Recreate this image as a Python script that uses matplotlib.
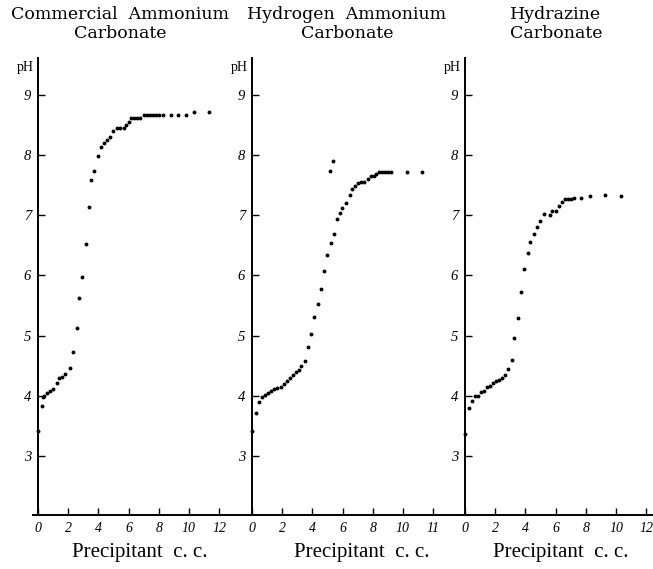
import matplotlib
matplotlib.use('Agg')
import matplotlib.pyplot as plt

# pH titration data (precipitant c.c. vs pH)
comm_cc = [0.0, 0.24, 0.3, 0.4, 0.62, 0.82, 1.02, 1.25, 1.42, 1.58,
           1.82, 2.09, 2.29, 2.56, 2.71, 2.93, 3.18, 3.36, 3.51, 3.73,
           3.98, 4.18, 4.35, 4.6, 4.8, 5.0, 5.25, 5.45, 5.7, 5.8,
           6.0, 6.15, 6.35, 6.55, 6.75, 7.0, 7.2, 7.4, 7.6, 7.8,
           8.0, 8.3, 8.8, 9.3, 9.8, 10.3, 11.3]
comm_ph = [3.41, 3.83, 3.98, 4.0, 4.04, 4.08, 4.12, 4.22, 4.30, 4.31,
           4.36, 4.46, 4.72, 5.13, 5.62, 5.98, 6.52, 7.14, 7.59, 7.74,
           7.99, 8.13, 8.19, 8.25, 8.30, 8.40, 8.45, 8.45, 8.45, 8.50,
           8.55, 8.61, 8.61, 8.61, 8.61, 8.66, 8.67, 8.67, 8.67, 8.67,
           8.67, 8.67, 8.67, 8.67, 8.67, 8.71, 8.71]

hyd_cc = [0.0, 0.24, 0.47, 0.68, 0.88, 1.08, 1.28, 1.48, 1.68, 1.90,
          2.12, 2.32, 2.52, 2.72, 2.91, 3.09, 3.27, 3.51, 3.71, 3.89,
          4.13, 4.35, 4.59, 4.77, 4.97, 5.21, 5.41, 5.63, 5.81, 5.98,
          6.23, 6.47, 6.64, 6.84, 7.0, 7.2, 7.44, 7.68, 7.9, 8.06,
          8.23, 8.39, 8.59, 8.81, 9.03, 9.23, 10.26, 11.28,
          5.15, 5.39]
hyd_ph = [3.42, 3.72, 3.89, 3.98, 4.02, 4.05, 4.08, 4.11, 4.13, 4.15,
          4.20, 4.25, 4.29, 4.34, 4.39, 4.43, 4.49, 4.58, 4.81, 5.02,
          5.31, 5.52, 5.78, 6.07, 6.33, 6.54, 6.69, 6.93, 7.03, 7.12,
          7.20, 7.34, 7.43, 7.49, 7.54, 7.55, 7.55, 7.60, 7.65, 7.65,
          7.69, 7.71, 7.71, 7.71, 7.71, 7.71, 7.71, 7.71,
          7.74, 7.90]

hydz_cc = [0.0, 0.29, 0.45, 0.67, 0.89, 1.07, 1.27, 1.47, 1.67, 1.87,
           2.07, 2.27, 2.47, 2.67, 2.87, 3.09, 3.27, 3.52, 3.73, 3.89,
           4.16, 4.33, 4.56, 4.76, 4.96, 5.23, 5.6, 5.78, 6.0, 6.23,
           6.43, 6.6, 6.8, 7.0, 7.2, 7.71, 8.29, 9.27, 10.33]
hydz_ph = [3.37, 3.79, 3.91, 4.0, 4.0, 4.07, 4.08, 4.14, 4.16, 4.21,
           4.24, 4.26, 4.30, 4.35, 4.44, 4.60, 4.96, 5.30, 5.72, 6.11,
           6.37, 6.56, 6.68, 6.81, 6.91, 7.02, 7.01, 7.07, 7.07, 7.15,
           7.22, 7.27, 7.27, 7.27, 7.28, 7.29, 7.32, 7.33, 7.32]

titles = ['Commercial  Ammonium\nCarbonate',
          'Hydrogen  Ammonium\nCarbonate',
          'Hydrazine\nCarbonate']
y_ticks = [3, 4, 5, 6, 7, 8, 9]
x_ticks = [0, 2, 4, 6, 8, 10, 12]
x_ticklabels = [['0', '2', '4', '6', '8', '10', '12'],
                ['0', '2', '4', '6', '8', '10', '11'],
                ['0', '2', '4', '6', '8', '10', '12']]

W, H = 653, 569
SERIF = ['Liberation Serif', 'DejaVu Serif']
TITLE_FONT = ['DejaVu Serif']

# layout in pixels: y-axis position, x-limits, title centre, xlabel centre
panels = [
    dict(x0=38, xlim=(-0.3, 14.0), title_x=120, label_x=140),
    dict(x0=252, xlim=(-0.2, 13.9), title_x=347, label_x=362),
    dict(x0=465, xlim=(-0.2, 12.4), title_x=556, label_x=561),
]
data = [(comm_cc, comm_ph), (hyd_cc, hyd_ph), (hydz_cc, hydz_ph)]

PX_PER_CC = 15.1
Y_BOTTOM, Y_TOP = 515, 58
YLIM = (2.02, 9.61)

fig = plt.figure(figsize=(W / 100, H / 100), dpi=100)

for i, (p, (cc, ph)) in enumerate(zip(panels, data)):
    a, b = p['xlim']
    left = p['x0'] + a * PX_PER_CC
    width = (b - a) * PX_PER_CC
    ax = fig.add_axes([left / W, (H - Y_BOTTOM) / H, width / W,
                       (Y_BOTTOM - Y_TOP) / H])
    ax.plot(cc, ph, 'o', color='black', markersize=2.8, markeredgewidth=0)
    ax.set_xlim(a, b)
    ax.set_ylim(*YLIM)
    ax.patch.set_alpha(0)
    for s in ['top', 'right']:
        ax.spines[s].set_visible(False)
    ax.spines['left'].set_position(('data', 0))
    ax.spines['left'].set_linewidth(1.4)
    ax.spines['bottom'].set_linewidth(1.4)

    ax.set_xticks(x_ticks)
    ax.set_xticklabels(x_ticklabels[i], family=SERIF, style='italic',
                       fontsize=10)
    ax.set_yticks(y_ticks)
    ax.set_yticklabels([str(t) for t in y_ticks], family=SERIF,
                       style='italic', fontsize=10.5)
    ax.tick_params(direction='in', length=5, width=1, pad=5)

    ax.text(-0.25, 9.45, 'pH', ha='right', va='center', family=SERIF,
            fontsize=10)

    fig.text(p['title_x'] / W, 1 - 6 / H, titles[i], ha='center', va='top',
             multialignment='center', family=TITLE_FONT, fontsize=12.5,
             linespacing=1.15)
    fig.text(p['label_x'] / W, 1 - 552 / H, 'Precipitant  c. c.',
             ha='center', va='center', family=SERIF, fontsize=15)

plt.savefig('out.png', dpi=100)
